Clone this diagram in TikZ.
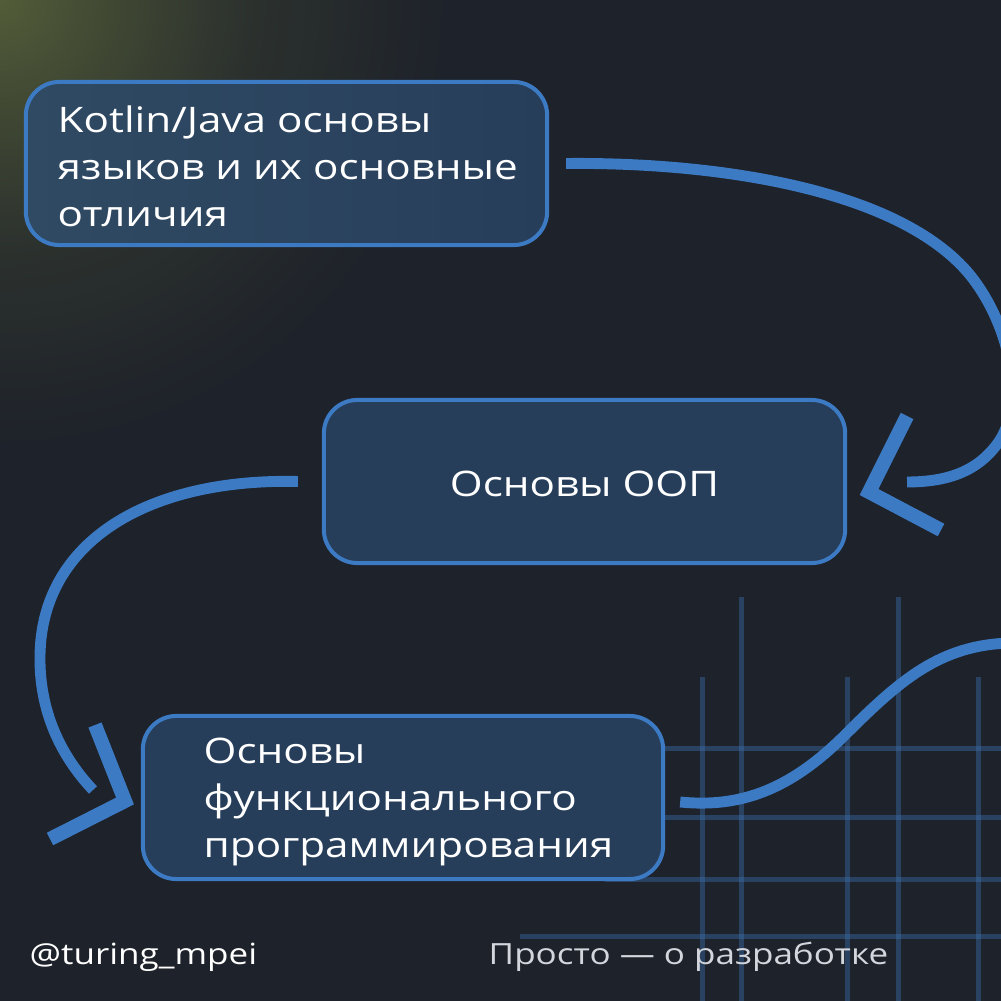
\documentclass[tikz,border=0pt]{standalone}
\usepackage{fontspec}
\setmainfont[FakeStretch=1.2]{Open Sans}
\newfontfamily\footfont[FakeStretch=1.2]{Open Sans}
\usetikzlibrary{calc}
\definecolor{bg}{HTML}{1E222A}
\definecolor{glow}{HTML}{525C38}
\definecolor{boxfill}{HTML}{273E5B}
\definecolor{boxfillL}{HTML}{304A63}
\definecolor{edge}{HTML}{3C7BC4}
\definecolor{gridc}{HTML}{3A6AA6}
\definecolor{foot}{HTML}{D3D7DD}
\pgfdeclareradialshading{glowshade}{\pgfpoint{0bp}{0bp}}{color(0bp)=(glow); color(4bp)=(glow!65!bg); color(9bp)=(glow!25!bg); color(16bp)=(bg); color(50bp)=(bg)}
\tikzset{
  boxst/.style={draw=edge, line width=1.14pt, fill=boxfill, rounded corners=9.5pt, minimum height=1.63cm, inner sep=0pt},
  boxtext/.style={anchor=base west, inner sep=0pt, text=white, font=\fontsize{10}{12}\selectfont},
  foottext/.style={anchor=base west, inner sep=0pt, font=\footfont\fontsize{8.3}{10}\selectfont},
  conn/.style={draw=edge, line width=3.1pt, line cap=butt},
  chev/.style={draw=edge, line width=4pt, line cap=butt, line join=miter},
  gridline/.style={draw=gridc, line width=1.42pt, draw opacity=0.45}
}
\begin{document}
\begin{tikzpicture}[x=0.01cm, y=-0.01cm]
\useasboundingbox (0,0) rectangle (1001,1001);
\fill[bg] (0,0) rectangle (1001,1001);
\begin{scope}
\clip (0,0) rectangle (1001,1001);
\shade[shading=glowshade] (-700,-700) rectangle (700,700);
% grid
\foreach \gx/\gy in {741/597, 898/597, 702/677, 847/677, 978/677}
  \draw[gridline] (\gx,\gy) -- (\gx,1001);
\foreach \hy/\hx in {748/600, 817/600, 879/605, 936/520}
  \draw[gridline] (\hx,\hy) -- (1001,\hy);
% boxes
\node[boxst, left color=boxfillL, right color=boxfill, minimum width=5.21cm] (b1) at (286.5,163.5) {};
\node[boxst, minimum width=5.21cm] (b2) at (584.5,481.5) {};
\node[boxst, minimum width=5.20cm] (b3) at (403,797.5) {};
% texts
\node[boxtext] (t1a) at (57,133) {Kotlin/Java основы};
\node[boxtext] (t1b) at (57,180) {языков и их основные};
\node[boxtext] (t1c) at (57,227) {отличия};
\node[boxtext, anchor=base] (t2) at (584.5,497) {Основы ООП};
\node[boxtext] (t3a) at (203,763) {Основы};
\node[boxtext] (t3b) at (203,810) {функционального};
\node[boxtext] (t3c) at (203,857) {программирования};
\node[foottext, text=white] (f1) at (29,964) {@turing\_mpei};
\node[foottext, text=foot] (f2) at (488,964) {Просто — о разработке};
% connectors
\coordinate (c1s) at ($(b1.east)+(17,0)$);
\coordinate (c1e) at (907,482);
\draw[conn] (c1s) .. controls (720,162) and (900,190) .. (970,275)
  .. controls (1010,325) and (1025,400) .. (1000,440)
  .. controls (980,470) and (950,482) .. (c1e);
\draw[chev] (907,416) -- (869,492) -- (941,530);
\coordinate (c2s) at ($(b2.west)+(-24,0)$);
\coordinate (c2e) at (93,790);
\draw[conn] (c2s) .. controls (150,478) and (42,540) .. (40,655)
  .. controls (39,710) and (60,755) .. (c2e);
\draw[chev] (95,725) -- (125,801) -- (50,839);
\coordinate (c3s) at ($(b3.east)+(15,4.5)$);
\coordinate (c3e) at (1010,643);
\draw[conn] (c3s) .. controls (740,808) and (790,790) .. (845,735)
  .. controls (900,680) and (940,645) .. (c3e);
\end{scope}
\end{tikzpicture}
\end{document}
